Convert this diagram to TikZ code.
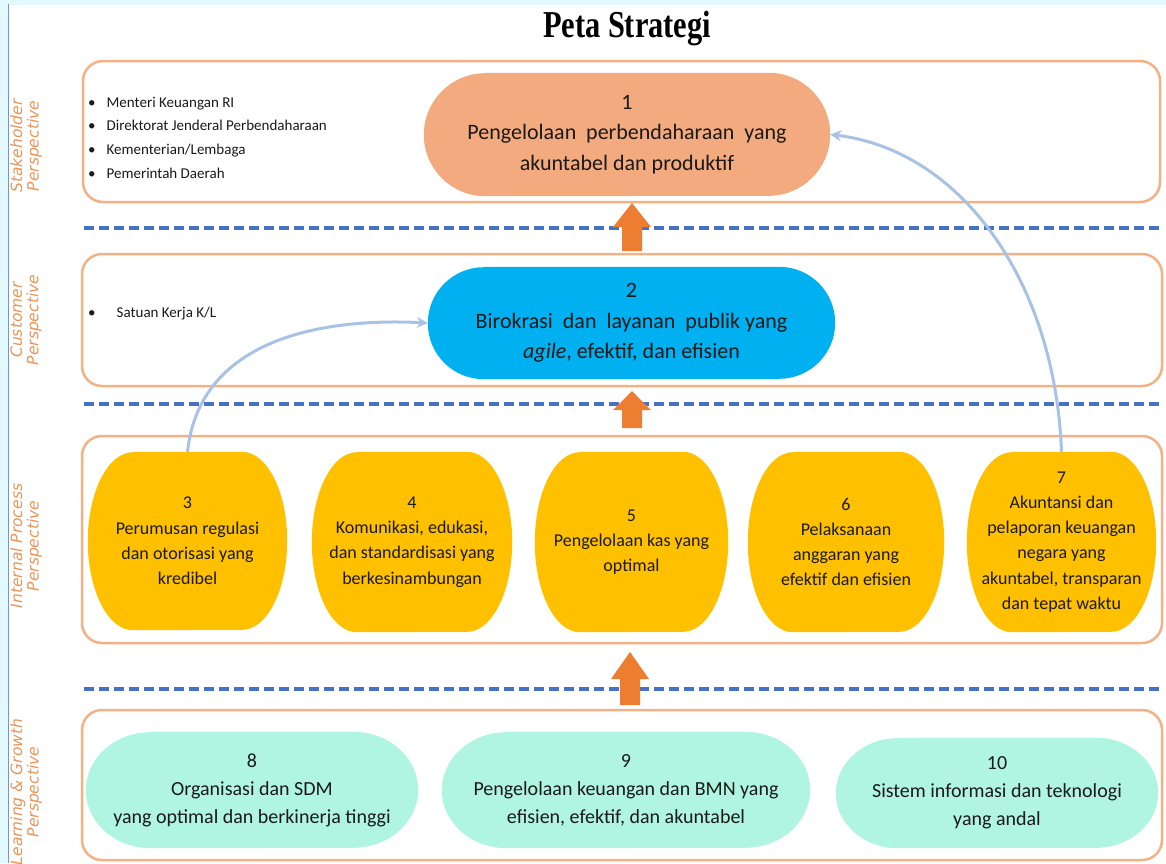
\documentclass[tikz,border=0pt]{standalone}
\usepackage{fontspec}
\setmainfont{Carlito}
\newfontfamily\titlefont{Liberation Serif}
\newfontfamily\sidefont{DejaVu Sans}
\usetikzlibrary{backgrounds,arrows.meta}
\definecolor{panelc}{HTML}{F4B183}
\definecolor{dashc}{HTML}{4472C4}
\definecolor{salmon}{HTML}{F2AA7E}
\definecolor{skyb}{HTML}{00B0F0}
\definecolor{gold}{HTML}{FFC000}
\definecolor{aqua}{HTML}{B0F5E2}
\definecolor{barrow}{HTML}{ED7D31}
\definecolor{curvec}{HTML}{A8C2E6}
\definecolor{sidec}{HTML}{E8955A}
\definecolor{stripc}{HTML}{E2FAFF}
\definecolor{linec}{HTML}{6F95D3}
\definecolor{txt}{HTML}{1A1A1A}
\newcommand\pillbg[4]{%
  \fill[#2] ([xshift=#3]#1.north west) -- ([xshift=-#3]#1.north east)
    arc[start angle=90,end angle=-90,x radius=#3,y radius=#4]
    -- ([xshift=#3]#1.south west)
    arc[start angle=270,end angle=90,x radius=#3,y radius=#4] -- cycle;}
\newcommand\blockarr[5]{% cx, tip, headbase, bottom, name
  \fill[barrow] (#1,#2) -- (#1+19,#3) -- (#1+10,#3) -- (#1+10,#4) -- (#1-10,#4) -- (#1-10,#3) -- (#1-19,#3) -- cycle;}
\tikzset{
  panel/.style={draw=panelc, line width=2.5pt, fill=white, rounded corners=20pt},
  sep/.style={draw=dashc, line width=3.5pt, dash pattern=on 10pt off 5pt},
  boxtext/.style={inner sep=0pt, align=center, text=txt},
  bigtext/.style={boxtext, font=\fontsize{22}{30.5}\selectfont},
  midtext/.style={boxtext, font=\fontsize{18}{25.3}\selectfont},
  lowtext/.style={boxtext, font=\fontsize{20}{28}\selectfont},
  listtext/.style={inner sep=0pt, align=left, text=txt, font=\fontsize{15}{23.6}\selectfont, anchor=west},
  sidelab/.style={rotate=90, align=center, text=sidec, inner sep=0pt, font=\sidefont\itshape\fontsize{15.5}{16.5}\selectfont},
  curvearr/.style={draw=curvec, line width=3pt, -{Stealth[length=11pt,width=11pt]}}
}
\begin{document}
\begin{tikzpicture}[x=1pt,y=-1pt]
\useasboundingbox (0,0) rectangle (1166,863);

% title
\node[text=black, inner sep=0pt, font=\titlefont\bfseries\fontsize{38}{40}\selectfont] (title) at (627,29) {\scalebox{0.8}[1]{Peta Strategi}};

% side labels
\node[sidelab] (lab1) at (26,146) {Stakeholder\\Perspective};
\node[sidelab] (lab2) at (26,320) {Customer\\Perspective};
\node[sidelab] (lab3) at (26,546) {Internal Process\\Perspective};
\node[sidelab] (lab4) at (26,792) {Learning \& Growth\\Perspective};

% text nodes
\node[bigtext, minimum width=406pt, minimum height=123pt] (n1) at (627,134.5) {1\\Pengelolaan\ \ perbendaharaan\ \ yang\\akuntabel\ dan\ produktif};
\node[bigtext, minimum width=407pt, minimum height=112pt] (n2) at (631.5,323) {2\\Birokrasi\ \ dan\ \ layanan\ \ publik\ yang\\\textit{agile}, efektif,\ dan\ efisien};
\node[midtext, minimum width=199pt, minimum height=178pt] (n3) at (187.5,541) {3\\Perumusan\ regulasi\\dan otorisasi yang\\kredibel};
\node[midtext, minimum width=200pt, minimum height=180pt] (n4) at (412,542) {4\\Komunikasi, edukasi,\\dan standardisasi yang\\berkesinambungan};
\node[midtext, minimum width=193pt, minimum height=180pt] (n5) at (631.5,542) {5\\Pengelolaan\ kas yang\\optimal};
\node[midtext, minimum width=196pt, minimum height=180pt] (n6) at (846,542) {6\\Pelaksanaan\\anggaran yang\\efektif\ dan efisien};
\node[midtext, minimum width=189pt, minimum height=180pt] (n7) at (1061.5,542) {7\\Akuntansi dan\\pelaporan keuangan\\negara yang\\akuntabel, transparan\\dan tepat waktu};
\node[lowtext, minimum width=332pt, minimum height=116pt] (n8) at (252,790) {8\\Organisasi dan SDM\\yang optimal dan berkinerja tinggi};
\node[lowtext, minimum width=368pt, minimum height=116pt] (n9) at (626,790) {9\\Pengelolaan keuangan dan BMN yang\\efisien, efektif, dan akuntabel};
\node[lowtext, minimum width=322pt, minimum height=110pt] (n10) at (997,793) {10\\Sistem informasi dan teknologi\\yang andal};

% lists
\node[listtext] (stk) at (88,137.5) {•\hspace{11pt}Menteri Keuangan RI\\•\hspace{11pt}Direktorat Jenderal Perbendaharaan\\•\hspace{11pt}Kementerian/Lembaga\\•\hspace{11pt}Pemerintah Daerah};
\node[listtext] (cus) at (88,314) {•\hspace{21pt}Satuan Kerja K/L};

\begin{scope}[on background layer]
  \fill[white] (0,0) rectangle (1166,863);
  \fill[stripc] (0,0) rectangle (1166,5);
  \fill[stripc] (0,0) rectangle (8,863);
  \draw[linec, line width=1.2pt] (8.5,4) -- (8.5,863);
  \draw[panel] (83,61) rectangle (1160,202);
  \draw[panel] (82,254) rectangle (1162,386);
  \draw[panel] (82,436) rectangle (1162,643);
  \draw[panel] (82,710) rectangle (1162,860);
  \draw[sep] (84,228) -- (1162,228);
  \draw[sep] (84,404) -- (1162,404);
  \draw[sep] (84,689) -- (1162,689);
  \pillbg{n1}{salmon}{61.5pt}{61.5pt}
  \pillbg{n2}{skyb}{56pt}{56pt}
  \pillbg{n3}{gold}{45pt}{89pt}
  \pillbg{n4}{gold}{45pt}{90pt}
  \pillbg{n5}{gold}{45pt}{90pt}
  \pillbg{n6}{gold}{45pt}{90pt}
  \pillbg{n7}{gold}{45pt}{90pt}
  \pillbg{n8}{aqua}{65pt}{58pt}
  \pillbg{n9}{aqua}{65pt}{58pt}
  \pillbg{n10}{aqua}{62pt}{55pt}
\end{scope}

% block arrows
\blockarr{632}{203}{227}{251}{a1}
\blockarr{632}{391}{410}{428}{a2}
\blockarr{630}{652}{679}{705}{a3}

% curved arrows
\draw[curvearr] (n3.north) .. controls (200,335) and (330,318) .. (n2.west);
\draw[curvearr] (n7.north) .. controls (1055,280) and (960,150) .. (n1.east);
\end{tikzpicture}
\end{document}
